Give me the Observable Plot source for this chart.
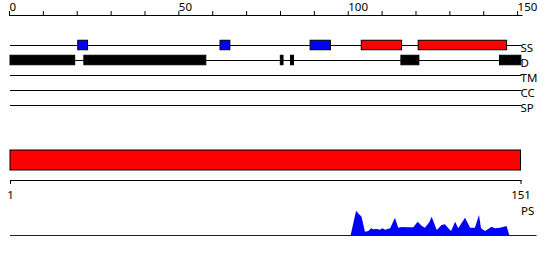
<!DOCTYPE html>
<html><head><meta charset="utf-8">
<script src="https://cdn.jsdelivr.net/npm/d3@7"></script>
<script src="https://cdn.jsdelivr.net/npm/@observablehq/plot@0.6"></script>
<style>
html,body{margin:0;padding:0;background:#fff;}
#chart svg{display:block;}
</style></head><body><div id="chart"></div>
<script>
// ---- data ----
const seqLength = 151;
const topTicks = [0, 10, 20, 30, 40, 50, 60, 70, 80, 90, 100, 110, 120, 130, 140, 150];
const topLabels = [0, 50, 100, 150];
const bottomTicks = [1, 151];
const tracks = ["SS", "D", "TM", "CC", "SP"];

const ssStart = [20, 62, 88.6, 103.7, 120.5];
const ssEnd   = [22.9, 64.9, 94.6, 115.6, 146.6];
const ssType  = ["strand", "strand", "strand", "helix", "helix"];

const dStart = [0, 21.8, 79.8, 82.8, 115.4, 144.5];
const dEnd   = [19.1, 57.8, 80.6, 83.7, 120.7, 150.8];

const domainStart = [1];
const domainEnd = [151];

const psPos = [101.1, 102.7, 103.3, 104.3, 105.3, 106.3, 107.1, 107.7, 108.7, 109.7, 110.4, 111.2, 112.7, 114.1, 115.1, 116.1, 117.6, 119.5, 120.8, 122.0, 122.9, 124.2, 124.9, 126.4, 127.8, 128.8, 129.8, 130.6, 131.8, 132.7, 134.7, 136.2, 137.6, 138.8, 139.4, 140.6, 142.5, 143.5, 145.0, 146.9, 147.7];
const psVal = [0, 0.97, 0.87, 0.73, 0.13, 0.16, 0.27, 0.23, 0.24, 0.21, 0.27, 0.21, 0.27, 0.69, 0.29, 0.32, 0.31, 0.31, 0.53, 0.36, 0.29, 0.51, 0.73, 0.2, 0.4, 0.43, 0.27, 0.16, 0.53, 0.27, 0.69, 0.29, 0.29, 0.8, 0.27, 0.16, 0.33, 0.27, 0.29, 0.36, 0];

// ---- tables ----
const ssData = ssStart.map((s, i) => ({track: "SS", start: s, end: ssEnd[i], type: ssType[i]}));
const dData = dStart.map((s, i) => ({track: "D", start: s, end: dEnd[i]}));
const domainData = domainStart.map((s, i) => ({start: s, end: domainEnd[i]}));
const psData = psPos.map((p, i) => ({pos: p, value: psVal[i]}));

const font = {fontFamily: "'Noto Sans', sans-serif", fontSize: "11.5px", background: "#fff", color: "#000"};

const plotA = Plot.plot({
  width: 550, height: 120,
  marginTop: 15, marginLeft: 10, marginRight: 28.5, marginBottom: 7.5,
  x: {domain: [0, seqLength], axis: null, label: null},
  y: {type: "band", domain: tracks, range: [37.5, 112.5], padding: 0, round: false, axis: null, label: null},
  color: {domain: ["strand", "helix"], range: ["#0000ff", "#ff0000"]},
  style: font,
  marks: [
    Plot.frame({anchor: "top"}),
    Plot.axisX({anchor: "top", ticks: topTicks, tickSize: 5, tickPadding: 0,
      tickFormat: d => topLabels.includes(d) ? String(d) : "",
      textAnchor: "start", dx: -1, label: null}),
    Plot.ruleY(tracks, {y: d => d, x1: 0, x2: seqLength, stroke: "#000"}),
    Plot.barX(ssData, {x1: "start", x2: "end", y: "track", fill: "type", stroke: "#000", insetTop: 2.75, insetBottom: 2.75}),
    Plot.barX(dData, {x1: "start", x2: "end", y: "track", fill: "#000", stroke: "#000", insetTop: 2.75, insetBottom: 2.75}),
    Plot.text(tracks, {x: () => seqLength, y: d => d, text: d => d, textAnchor: "start", dx: -1.5, dy: 3, fill: "#000"})
  ]
});

const plotB = Plot.plot({
  width: 550, height: 84,
  marginTop: 30, marginBottom: 24, marginLeft: 10, marginRight: 29.5,
  x: {domain: [1, seqLength], axis: null, label: null},
  style: font,
  marks: [
    Plot.barX(domainData, {x1: "start", x2: "end", fill: "#ff0000", stroke: "#000", insetBottom: 10}),
    Plot.frame({anchor: "bottom"}),
    Plot.axisX({anchor: "bottom", ticks: bottomTicks, tickSize: 4, tickPadding: 6, label: null})
  ]
});

const plotC = Plot.plot({
  width: 550, height: 56,
  marginTop: 6, marginBottom: 25, marginLeft: 10, marginRight: 29.5,
  x: {domain: [1, seqLength], axis: null, label: null},
  y: {domain: [0, 1], axis: null, label: null},
  style: font,
  marks: [
    Plot.areaY(psData, {x: "pos", y: "value", fill: "#0000ff"}),
    Plot.ruleY([0], {stroke: "#0000ff", insetRight: -16}),
    Plot.text(["PS"], {frameAnchor: "top-right", textAnchor: "start", lineAnchor: "middle", dy: 1.1, fill: "#000"})
  ]
});

const el = document.getElementById("chart");
el.append(plotA, plotB, plotC);
</script>
</body></html>
